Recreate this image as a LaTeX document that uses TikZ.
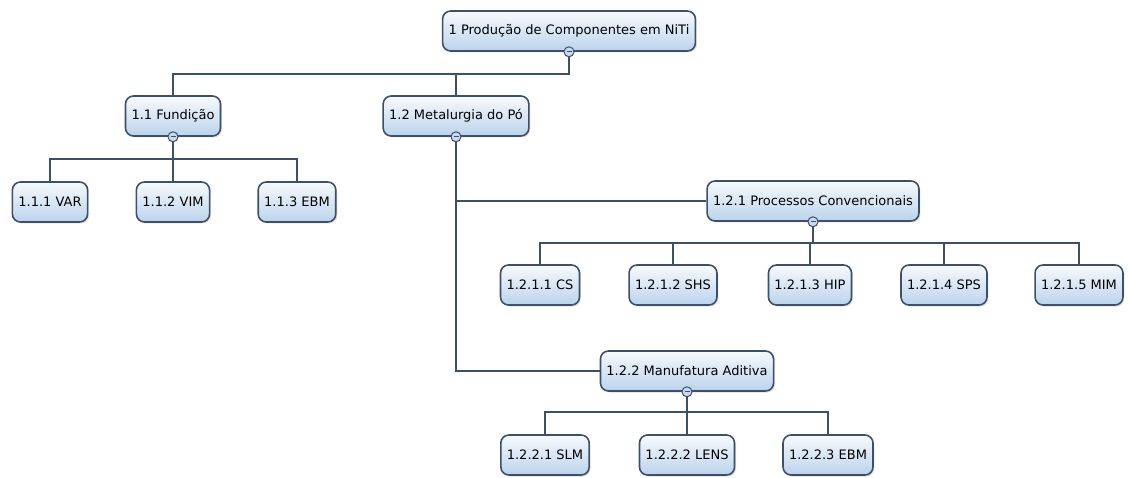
\documentclass[tikz,border=0pt]{standalone}
\usepackage{fontspec}
\setmainfont{DejaVu Sans}
\usepackage{xcolor}
\usetikzlibrary{shadows}

\definecolor{wbsline}{HTML}{3E5069}
\definecolor{wbstop}{HTML}{F7FAFD}
\definecolor{wbsbot}{HTML}{BCD3EC}
\definecolor{knobfill}{HTML}{C9DAEE}

\tikzset{
  wbs/.style={draw=wbsline, line width=1.6pt, rounded corners=8pt,
    top color=wbstop, bottom color=wbsbot, minimum height=40pt,
    inner xsep=6pt, font=\fontsize{13}{15}\selectfont,
    drop shadow={opacity=0.25, shadow xshift=1.5pt, shadow yshift=-1.5pt}},
  knob/.style={circle, draw=wbsline, line width=1pt, fill=knobfill,
    inner sep=0pt, minimum size=10pt,
    path picture={\draw[wbsline, line width=1pt]
      ([xshift=-2.5pt]path picture bounding box.center) --
      ([xshift=2.5pt]path picture bounding box.center);}},
  link/.style={draw=wbsline, line width=2pt}
}

\begin{document}
\begin{tikzpicture}[x=1pt, y=-1pt]
  \useasboundingbox (0,0) rectangle (1129,478);

  % boxes
  \node[wbs] (root) at (569,31) {1 Produção de Componentes em NiTi};
  \node[wbs] (fund) at (173,116) {1.1 Fundição};
  \node[wbs] (meta) at (456,116) {1.2 Metalurgia do Pó};
  \node[wbs] (proc) at (813,201) {1.2.1 Processos Convencionais};
  \node[wbs] (manu) at (687,371) {1.2.2 Manufatura Aditiva};

  \foreach \name/\x/\txt in {var/50/1.1.1 VAR, vim/173/1.1.2 VIM, ebmf/297/1.1.3 EBM}
    \node[wbs] (\name) at (\x,202) {\txt};
  \foreach \name/\x/\txt in {cs/540/1.2.1.1 CS, shs/673/1.2.1.2 SHS, hip/810/1.2.1.3 HIP,
      sps/944/1.2.1.4 SPS, mim/1079/1.2.1.5 MIM}
    \node[wbs] (\name) at (\x,285) {\txt};
  \foreach \name/\x/\txt in {slm/545/1.2.2.1 SLM, lens/687/1.2.2.2 LENS, ebma/828/1.2.2.3 EBM}
    \node[wbs] (\name) at (\x,455) {\txt};

  % bus lines
  \coordinate (rbar) at (569,74);
  \coordinate (fbar) at (173,159);
  \coordinate (pbar) at (813,243);
  \coordinate (abar) at (687,412);

  \draw[link] (root.south) -- (rbar) -| (fund);
  \draw[link] (rbar) -| (meta);
  \draw[link] (fund.south) -- (fbar);
  \foreach \c in {var,vim,ebmf}
    \draw[link] (fbar) -| (\c);
  \draw[link] (meta.south) |- (manu.west);
  \draw[link] (meta.south |- proc.west) -- (proc.west);
  \draw[link] (proc.south) -- (pbar);
  \foreach \c in {cs,shs,hip,sps,mim}
    \draw[link] (pbar) -| (\c);
  \draw[link] (manu.south) -- (abar);
  \foreach \c in {slm,lens,ebma}
    \draw[link] (abar) -| (\c);

  % collapse knobs
  \foreach \n in {root,fund,meta,proc,manu}
    \node[knob] at (\n.south) {};
\end{tikzpicture}
\end{document}
